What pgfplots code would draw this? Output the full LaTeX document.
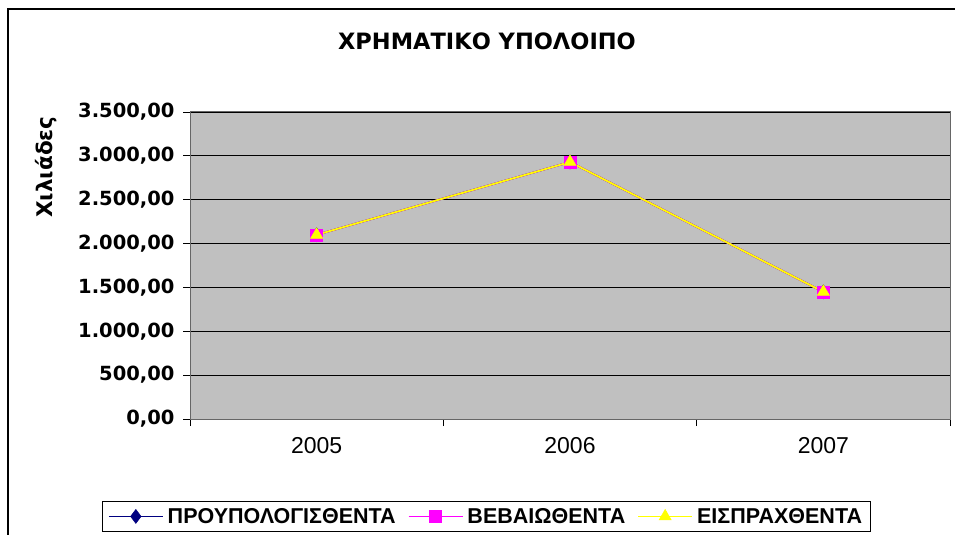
\documentclass[border=0pt]{standalone}
\usepackage{pgfplots}
\pgfplotsset{compat=1.18}
\usepackage{fontspec}
\setmainfont{Liberation Sans}
\newfontfamily\dv{DejaVu Sans}
\definecolor{plotgray}{RGB}{192,192,192}
\definecolor{navyc}{RGB}{0,0,128}
\definecolor{magc}{RGB}{255,0,255}
\definecolor{yelc}{RGB}{255,255,0}
\begin{document}
\begin{tikzpicture}[x=1pt,y=1pt]
\useasboundingbox (0,0) rectangle (955,535);
\fill[white] (0,0) rectangle (955,535);
\draw[line width=2pt] (8,0) -- (8,526) -- (955,526);
\node[font=\dv\bfseries\fontsize{22.5}{24}\selectfont] at (487,494) {ΧΡΗΜΑΤΙΚΟ ΥΠΟΛΟΙΠΟ};
\node[rotate=90, font=\dv\bfseries\fontsize{21.5}{23}\selectfont] at (46,368) {Χιλιάδες};
\begin{axis}[
  at={(190pt,116pt)}, anchor=south west, scale only axis,
  width=760pt, height=307pt,
  xmin=0.5, xmax=3.5, ymin=0, ymax=3500,
  ytick={0,500,...,3500},
  xtick={0.5,1.5,2.5,3.5}, x tick label as interval,
  xticklabels={2005,2006,2007},
  xtick pos=left, ytick pos=left,
  tick align=outside, major tick length=7pt,
  tick style={black, line width=0.8pt},
  axis background/.style={fill=plotgray},
  ymajorgrids, grid style={black, line width=0.8pt},
  axis line style={black!60, line width=1pt},
  yticklabel style={font=\dv\bfseries\fontsize{19.5}{21}\selectfont, xshift=-5pt,
    /pgf/number format/.cd, fixed, fixed zerofill, precision=2, use comma, 1000 sep={.}, assume math mode=true},
  xticklabel style={font=\fontsize{23}{25}\selectfont, yshift=-8pt},
  legend columns=3,
  legend style={at={(0.3895,-0.268)}, anchor=north, draw=black, line width=0.8pt,
    font=\bfseries\fontsize{21.5}{23}\selectfont, inner ysep=4.5pt, inner xsep=6pt,
    /tikz/every even column/.append style={column sep=10pt},
    /tikz/every odd column/.append style={column sep=2pt}},
  legend image code/.code={\draw[mark repeat=2,mark phase=2,#1] plot coordinates {(0pt,0pt) (27pt,0pt) (54pt,0pt)};},
]
\addplot[color=navyc, line width=1.8pt, mark=diamond*, mark size=7pt, mark options={fill=navyc, line width=0.5pt}]
  coordinates {(1,2100) (2,2930) (3,1450)};
\addlegendentry{ΠΡΟΥΠΟΛΟΓΙΣΘΕΝΤΑ}
\addplot[color=magc, line width=1.8pt, mark=square*, mark size=6pt, mark options={fill=magc, line width=0.5pt}]
  coordinates {(1,2100) (2,2930) (3,1450)};
\addlegendentry{ΒΕΒΑΙΩΘΕΝΤΑ}
\addplot[color=yelc, line width=1.8pt, mark=triangle*, mark size=7pt, mark options={fill=yelc, line width=0.5pt}]
  coordinates {(1,2100) (2,2930) (3,1450)};
\addlegendentry{ΕΙΣΠΡΑΧΘΕΝΤΑ}
\end{axis}
\end{tikzpicture}
\end{document}
